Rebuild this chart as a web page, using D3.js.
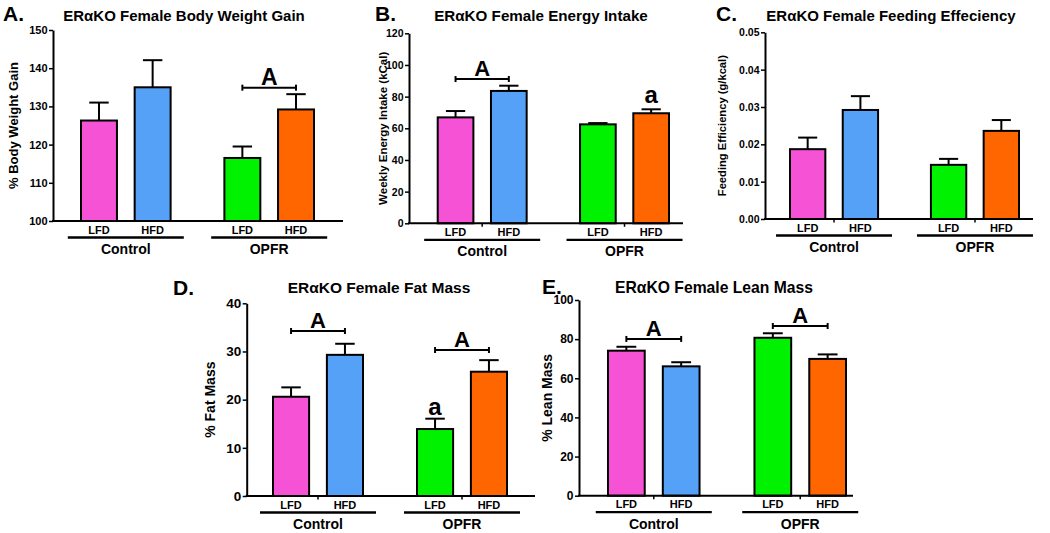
<!DOCTYPE html>
<html><head><meta charset="utf-8">
<script src="https://cdn.jsdelivr.net/npm/d3@7"></script>
<style>
body{margin:0;background:#fff}
text{font-family:"Liberation Sans",Arial,sans-serif;font-weight:bold;fill:#000}
</style>
</head><body>
<svg id="chart" width="1050" height="533"></svg>
<script>
// ---------- data ----------
const groups = ["Control", "OPFR"];
const diets = ["LFD", "HFD"];
const barColors = ["#F652D6", "#55A1F7", "#00F200", "#FF6600"];

// A. Body weight gain (%)
const bwMean = [126.3, 135.0, 116.5, 129.2];
const bwSem  = [4.7, 7.1, 3.0, 4.0];
const bwTicks = [100, 110, 120, 130, 140, 150];
const bwSig = [{group: "OPFR", y: 134.9, label: "A"}];
const bwLetters = [];

// B. Energy intake (kCal)
const eiMean = [66.9, 83.6, 62.5, 69.5];
const eiSem  = [4.0, 3.3, 0.8, 2.5];
const eiTicks = [0, 20, 40, 60, 80, 100, 120];
const eiSig = [{group: "Control", y: 91.1, label: "A"}];
const eiLetters = [{bar: 3, y: 75.8, label: "a"}];

// C. Feeding efficiency (g/kcal)
const feMean = [0.0187, 0.0292, 0.0145, 0.0236];
const feSem  = [0.0031, 0.0037, 0.0016, 0.0029];
const feTicks = [0, 0.01, 0.02, 0.03, 0.04, 0.05];
const feSig = [];
const feLetters = [];

// D. Fat mass (%)
const fmMean = [20.6, 29.3, 13.9, 25.8];
const fmSem  = [1.95, 2.3, 2.15, 2.4];
const fmTicks = [0, 10, 20, 30, 40];
const fmSig = [{group: "Control", y: 34.25, label: "A"}, {group: "OPFR", y: 30.3, label: "A"}];
const fmLetters = [{bar: 2, y: 16.8, label: "a"}];

// E. Lean mass (%)
const lmMean = [74.1, 66.1, 80.7, 69.9];
const lmSem  = [2.0, 2.1, 2.3, 2.3];
const lmTicks = [0, 20, 40, 60, 80, 100];
const lmSig = [{group: "Control", y: 80.1, label: "A"}, {group: "OPFR", y: 86.7, label: "A"}];
const lmLetters = [];

// ---------- layout ----------
const panels = [
  {letter: "A.", title: "ERαKO Female Body Weight Gain", ylabel: "% Body Weight Gain",
   mean: bwMean, sem: bwSem, ticks: bwTicks, fmt: d3.format("d"), domain: [100, 150], sig: bwSig, letters: bwLetters,
   axisX: 53, top: 30, bottom: 221, right: 343, bars: [81, 314], tickFont: 11, ylFont: 13, ylX: 13,
   titleX: 184, titleY: 20.5, letterX: 3, letterY: 21, titleFont: 15, sigFont: 23, groupTicks: false},
  {letter: "B.", title: "ERαKO Female Energy Intake", ylabel: "Weekly Energy Intake (kCal)",
   mean: eiMean, sem: eiSem, ticks: eiTicks, fmt: d3.format("d"), domain: [0, 120], sig: eiSig, letters: eiLetters,
   axisX: 409, top: 33.3, bottom: 223.3, right: 683, bars: [437.7, 669], tickFont: 10.5, ylFont: 11.5, ylX: 383,
   titleX: 541, titleY: 20.5, letterX: 375, letterY: 21, titleFont: 15.2, sigFont: 22, groupTicks: true},
  {letter: "C.", title: "ERαKO Female Feeding Effeciency", ylabel: "Feeding Efficiency (g/kcal)",
   mean: feMean, sem: feSem, ticks: feTicks, fmt: d3.format(".2f"), domain: [0, 0.05], sig: feSig, letters: feLetters,
   axisX: 765, top: 32.3, bottom: 219, right: 1033, bars: [790, 1019], tickFont: 10.5, ylFont: 11.2, ylX: 722,
   titleX: 891, titleY: 20.5, letterX: 716, letterY: 21, titleFont: 15, sigFont: 22, groupTicks: true},
  {letter: "D.", title: "ERαKO Female Fat Mass", ylabel: "% Fat Mass",
   mean: fmMean, sem: fmSem, ticks: fmTicks, fmt: d3.format("d"), domain: [0, 40], sig: fmSig, letters: fmLetters,
   axisX: 246.7, top: 303.3, bottom: 496, right: 535, bars: [273, 507], tickFont: 13.5, ylFont: 14, ylX: 210,
   titleX: 379, titleY: 292.5, letterX: 173, letterY: 294.5, titleFont: 15.5, sigFont: 22, groupTicks: true},
  {letter: "E.", title: "ERαKO Female Lean Mass", ylabel: "% Lean Mass",
   mean: lmMean, sem: lmSem, ticks: lmTicks, fmt: d3.format("d"), domain: [0, 100], sig: lmSig, letters: lmLetters,
   axisX: 579, top: 300, bottom: 495.7, right: 853, bars: [608, 846], tickFont: 12, ylFont: 14, ylX: 547,
   titleX: 714, titleY: 292.5, letterX: 542, letterY: 293.5, titleFont: 15.7, sigFont: 22, groupTicks: true}
];

const svg = d3.select("#chart");

panels.forEach(p => {
  const g = svg.append("g");
  const y = d3.scaleLinear().domain(p.domain).range([p.bottom, p.top]);
  const xOuter = d3.scaleBand().domain(groups).range(p.bars).paddingInner(0.375).paddingOuter(0);
  const xInner = d3.scaleBand().domain(diets).range([0, xOuter.bandwidth()]).paddingInner(0.33).paddingOuter(0);
  const bw = xInner.bandwidth();

  const rows = [];
  groups.forEach((gr, gi) => diets.forEach((dt, di) => {
    const i = gi * 2 + di;
    rows.push({group: gr, diet: dt, mean: p.mean[i], sem: p.sem[i], color: barColors[i],
               x: xOuter(gr) + xInner(dt)});
  }));

  // panel letter and title
  g.append("text").attr("x", p.letterX).attr("y", p.letterY).attr("font-size", 21).text(p.letter);
  g.append("text").attr("x", p.titleX).attr("y", p.titleY).attr("text-anchor", "middle")
    .attr("font-size", p.titleFont).text(p.title);

  // error bars
  rows.forEach(r => {
    const cx = r.x + bw / 2;
    g.append("line").attr("x1", cx).attr("x2", cx).attr("y1", y(r.mean)).attr("y2", y(r.mean + r.sem))
      .attr("stroke", "#000").attr("stroke-width", 2);
    g.append("line").attr("x1", cx - bw * 0.27).attr("x2", cx + bw * 0.27)
      .attr("y1", y(r.mean + r.sem)).attr("y2", y(r.mean + r.sem))
      .attr("stroke", "#000").attr("stroke-width", 2);
  });

  // bars
  g.selectAll("rect.bar").data(rows).join("rect").attr("class", "bar")
    .attr("x", d => d.x).attr("width", bw)
    .attr("y", d => y(d.mean)).attr("height", d => y(p.domain[0]) - y(d.mean))
    .attr("fill", d => d.color).attr("stroke", "#000").attr("stroke-width", 2);

  // y axis
  const ax = g.append("g").attr("transform", `translate(${p.axisX},0)`)
    .call(d3.axisLeft(y).tickValues(p.ticks).tickFormat(p.fmt).tickSize(4).tickSizeOuter(0).tickPadding(1.5));
  ax.select(".domain").attr("stroke-width", 2);
  ax.selectAll(".tick line").attr("stroke-width", 1.5);
  ax.selectAll(".tick text").attr("font-size", p.tickFont).attr("font-family", "Liberation Sans, Arial, sans-serif")
    .attr("font-weight", "bold");

  // x axis line
  g.append("line").attr("x1", p.axisX - 1).attr("x2", p.right).attr("y1", y(p.domain[0])).attr("y2", y(p.domain[0]))
    .attr("stroke", "#000").attr("stroke-width", 2);
  if (p.groupTicks) {
    groups.forEach(gr => {
      const cx = xOuter(gr) + xOuter.bandwidth() / 2;
      g.append("line").attr("x1", cx).attr("x2", cx).attr("y1", p.bottom).attr("y2", p.bottom + 3.5)
        .attr("stroke", "#000").attr("stroke-width", 1.5);
    });
  }

  // y label
  g.append("text").attr("transform", "rotate(-90)")
    .attr("x", -(p.top + p.bottom) / 2).attr("y", p.ylX + p.ylFont * 0.36)
    .attr("text-anchor", "middle").attr("font-size", p.ylFont).text(p.ylabel);

  // diet labels
  rows.forEach(r => {
    g.append("text").attr("x", r.x + bw / 2).attr("y", p.bottom + 12.5).attr("text-anchor", "middle")
      .attr("font-size", 11).text(r.diet);
  });

  // group lines and labels
  groups.forEach(gr => {
    const cx = xOuter(gr) + xOuter.bandwidth() / 2;
    g.append("line").attr("x1", cx - 58).attr("x2", cx + 58).attr("y1", p.bottom + 16.5).attr("y2", p.bottom + 16.5)
      .attr("stroke", "#000").attr("stroke-width", 2.3);
    g.append("text").attr("x", cx).attr("y", p.bottom + 33).attr("text-anchor", "middle")
      .attr("font-size", 14).text(gr);
  });

  // significance brackets
  p.sig.forEach(s => {
    const x1 = xOuter(s.group) + xInner("LFD") + bw / 2;
    const x2 = xOuter(s.group) + xInner("HFD") + bw / 2;
    const yy = y(s.y);
    g.append("line").attr("x1", x1).attr("x2", x2).attr("y1", yy).attr("y2", yy)
      .attr("stroke", "#000").attr("stroke-width", 2);
    [x1, x2].forEach(xx => g.append("line").attr("x1", xx).attr("x2", xx).attr("y1", yy - 3).attr("y2", yy + 3)
      .attr("stroke", "#000").attr("stroke-width", 2));
    g.append("text").attr("x", (x1 + x2) / 2).attr("y", yy - 3).attr("text-anchor", "middle")
      .attr("font-size", p.sigFont).text(s.label);
  });

  // letters above single bars
  p.letters.forEach(l => {
    const r = rows[l.bar];
    g.append("text").attr("x", r.x + bw / 2).attr("y", y(l.y)).attr("text-anchor", "middle")
      .attr("font-size", 24).text(l.label);
  });
});
</script>
</body></html>
